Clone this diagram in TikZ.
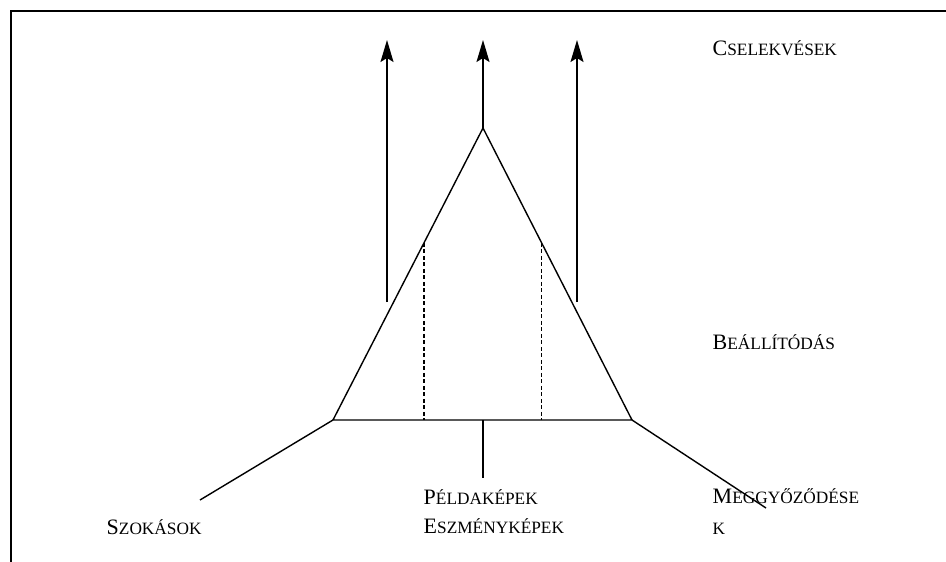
\documentclass[tikz,border=0pt]{standalone}
\usepackage{fontspec}
\setmainfont{Liberation Serif}
\usetikzlibrary{arrows.meta}

\newcommand{\kiskap}[2]{#1{\fontsize{17.3}{20}\selectfont #2}}

\begin{document}
\begin{tikzpicture}[x=1pt,y=-1pt,line width=1.4pt,
    felirat/.style={anchor=base west,inner sep=0pt,font=\fontsize{22}{25}\selectfont},
    nyil/.style={-{Stealth[length=22pt,width=13pt,inset=4pt]}},
    szaggatott/.style={line width=1.2pt,dash pattern=on 4pt off 2.5pt}]
    \useasboundingbox (0,0) rectangle (946,562);
    % keret
    \draw (11,562) -- (11,11) -- (946,11);

    \coordinate (csucs) at (483,128);
    \coordinate (bal) at (333,420);
    \coordinate (jobb) at (632,420);
    \coordinate (kozep) at (483,420);
    \coordinate (lent) at (483,478);
    \coordinate (balveg) at (200,500);
    \coordinate (jobbveg) at (766,508);
    \coordinate (balnyil) at (387,302);
    \coordinate (jobbnyil) at (577,302);
    \coordinate (balcsucs) at (387,40);
    \coordinate (kozepcsucs) at (483,40);
    \coordinate (jobbcsucs) at (577,40);

    \draw (bal) -- (csucs) -- (jobb) -- cycle;
    \path (bal) -- (csucs) coordinate[pos=0.607] (balfel);
    \path (jobb) -- (csucs) coordinate[pos=0.607] (jobbfel);
    \draw[szaggatott] (balfel) -- (balfel |- bal);
    \draw[szaggatott] (jobbfel) -- (jobbfel |- jobb);
    \draw (kozep) -- (lent);
    \draw (bal) -- (balveg);
    \draw (jobb) -- (jobbveg);

    \draw[nyil] (balnyil) -- (balcsucs);
    \draw[nyil] (csucs) -- (kozepcsucs);
    \draw[nyil] (jobbnyil) -- (jobbcsucs);

    \node[felirat] (cselekves) at (712,56) {\kiskap{C}{SELEKVÉSEK}};
    \node[felirat] (beallitodas) at (712,349) {\kiskap{B}{EÁLLÍTÓDÁS}};
    \node[felirat] (peldakep) at (423,504) {\kiskap{P}{ÉLDAKÉPEK}};
    \node[felirat] (eszmenykep) at (423,533) {\kiskap{E}{SZMÉNYKÉPEK}};
    \node[felirat] (szokas) at (106,534) {\kiskap{S}{ZOKÁSOK}};
    \node[felirat] (meggyozodes) at (712,503) {\kiskap{M}{EGGYŐZŐDÉSE}};
    \node[felirat] (meggyk) at (712,534) {\kiskap{}{K}};
\end{tikzpicture}
\end{document}
